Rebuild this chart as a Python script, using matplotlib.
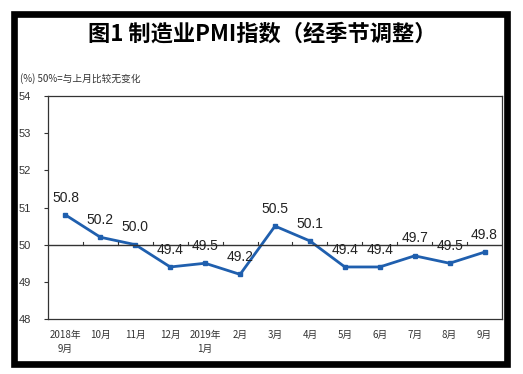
import matplotlib
matplotlib.use("Agg")
import matplotlib.pyplot as plt
from matplotlib.patches import Rectangle

plt.rcParams['font.family'] = ['Noto Sans CJK SC', 'DejaVu Sans']

# data
months = ["2018年\n9月", "10月", "11月", "12月", "2019年\n1月", "2月", "3月",
          "4月", "5月", "6月", "7月", "8月", "9月"]
pmi = [50.8, 50.2, 50.0, 49.4, 49.5, 49.2, 50.5, 50.1, 49.4, 49.4, 49.7, 49.5, 49.8]
y_ticks = [48, 49, 50, 51, 52, 53, 54]

W, H = 523, 374
fig = plt.figure(figsize=(W / 100, H / 100), dpi=100)
fig.patch.set_facecolor("white")

# thick black frame around everything
fig.patches.append(Rectangle((14 / W, 10 / H), 492.5 / W, 350 / H,
                             transform=fig.transFigure, fill=False,
                             edgecolor="black", linewidth=4.8))

ax = fig.add_axes([48 / W, (H - 319) / H, 454 / W, 223 / H])
x = list(range(len(months)))
ax.plot(x, pmi, color="#1f5fae", linewidth=2, marker="s", markersize=3.5)

for xi, v in zip(x, pmi):
    ax.annotate(f"{v:.1f}", (xi, v), xytext=(0, 12.5), textcoords="offset points",
                ha="center", va="center", fontsize=10, family="Liberation Sans",
                color="#222222")

# horizontal line at 50 with small category ticks
ax.axhline(50, color="#333333", linewidth=1)
for b in range(1, len(months)):
    ax.plot([b - 0.5, b - 0.5], [50, 50.08], color="#333333", linewidth=0.8)

ax.set_xlim(-0.5, len(months) - 0.5)
ax.set_ylim(48, 54)
ax.set_yticks(y_ticks)
ax.set_yticklabels([str(t) for t in y_ticks], fontsize=8, family="Liberation Sans",
                   color="#333333")
ax.tick_params(axis="y", direction="out", length=3, width=0.8, pad=9, color="#333333")
ax.set_xticks(x)
ax.set_xticklabels(months, fontsize=7, color="#333333", linespacing=1.5)
ax.tick_params(axis="x", length=0, pad=8)
for s in ax.spines.values():
    s.set_color("#333333")
    s.set_linewidth(0.9)

fig.text(262 / W, 1 - 34 / H, "图1 制造业PMI指数（经季节调整）", ha="center", va="center",
         fontsize=16, fontweight="bold")
fig.text(20 / W, 1 - 79 / H, "(%) 50%=与上月比较无变化", ha="left", va="center",
         fontsize=7, color="#333333")

fig.savefig("out.png", dpi=100)
